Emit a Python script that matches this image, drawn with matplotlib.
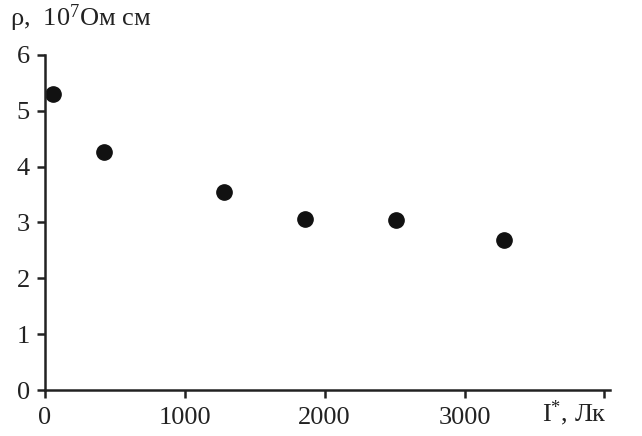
import numpy as np
import matplotlib.pyplot as plt

# освещенность, Лк
illum = [60, 420, 1280, 1860, 2510, 3280]
# удельное сопротивление, 10^7 Ом см
rho = [5.30, 4.26, 3.54, 3.06, 3.05, 2.69]

x_ticks = [0, 1000, 2000, 3000, 4000]
x_tick_labels = ["0", "1000", "2000", "3000", ""]
y_ticks = [0, 1, 2, 3, 4, 5, 6]

plt.rcParams['font.family'] = ['Liberation Serif', 'DejaVu Serif']
plt.rcParams['mathtext.fontset'] = 'custom'
plt.rcParams['mathtext.rm'] = 'Liberation Serif'
plt.rcParams['mathtext.it'] = 'Liberation Serif'

fig = plt.figure(figsize=(6.42, 4.36), dpi=100)
ax = fig.add_axes([0.0701, 0.1055, 0.88, 0.7684])

ax.plot(illum, rho, 'o', color='#111111', markersize=11, clip_on=False)

ax.set_xlim(0, 4040)
ax.set_ylim(0, 6)
ax.set_xticks(x_ticks)
ax.set_xticklabels(x_tick_labels)
ax.set_yticks(y_ticks)

for s in ['top', 'right']:
    ax.spines[s].set_visible(False)
for s in ['left', 'bottom']:
    ax.spines[s].set_linewidth(1.8)
    ax.spines[s].set_color('#222222')

ax.tick_params(direction='out', length=6, width=1.8, color='#222222',
               labelsize=19, labelcolor='#222222')
ax.tick_params(axis='x', pad=6)
ax.tick_params(axis='y', pad=5)

fig.text(0.015, 0.958, r"ρ,  10$^{\mathrm{7}}$Ом см", fontsize=19, color='#222222',
         va='center', ha='left')
fig.text(0.945, 0.052, r"I$^{\mathrm{*}}$, Лк", fontsize=19, color='#222222',
         va='center', ha='right')

fig.savefig('out.png', dpi=100)
